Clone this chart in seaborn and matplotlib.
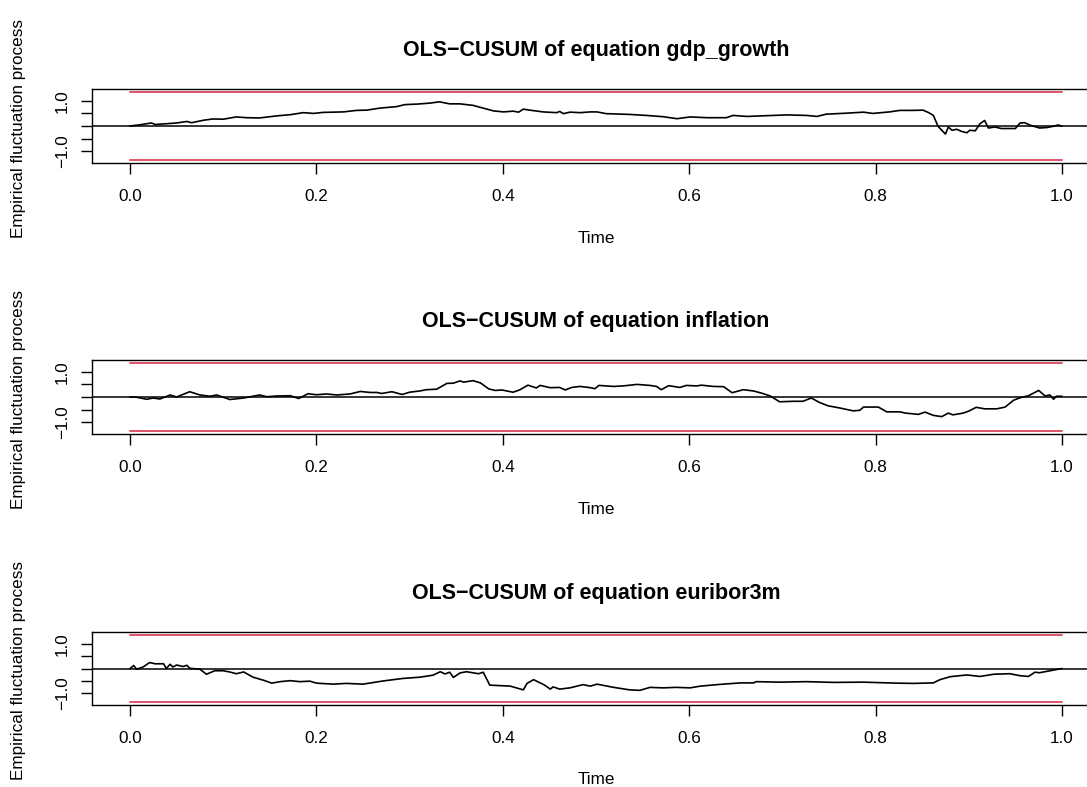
import numpy as np
import pandas as pd
import matplotlib
matplotlib.use("Agg")
import matplotlib.pyplot as plt
import seaborn as sns

# ---------------- data ----------------
titles = ["OLS\u2212CUSUM of equation gdp_growth",
          "OLS\u2212CUSUM of equation inflation",
          "OLS\u2212CUSUM of equation euribor3m"]
boundary = 1.358
y_limit = 1.47
x_ticks = [0.0, 0.2, 0.4, 0.6, 0.8, 1.0]
x_tick_labels = ["0.0", "0.2", "0.4", "0.6", "0.8", "1.0"]
y_ticks = [-1.0, -0.5, 0.0, 0.5, 1.0]
y_tick_labels = ["\u22121.0", "", "", "", "1.0"]

t_gdp = [0.000, 0.011, 0.023, 0.027, 0.039, 0.050, 0.061, 0.066, 0.079, 0.089,
         0.100, 0.114, 0.125, 0.139, 0.157, 0.172, 0.186, 0.197, 0.207, 0.229,
         0.243, 0.254, 0.268, 0.286, 0.295, 0.308, 0.322, 0.332, 0.343, 0.354,
         0.368, 0.379, 0.390, 0.401, 0.411, 0.417, 0.422, 0.429, 0.443, 0.458,
         0.461, 0.465, 0.472, 0.483, 0.494,
         0.501, 0.511, 0.536, 0.554, 0.572, 0.587, 0.601, 0.619, 0.640, 0.647,
         0.662, 0.683, 0.705, 0.726, 0.737, 0.747, 0.769, 0.787, 0.797, 0.815,
         0.826, 0.840, 0.851, 0.857, 0.862, 0.867, 0.871, 0.875, 0.878, 0.882,
         0.887, 0.892, 0.898, 0.901, 0.907, 0.912, 0.917, 0.921, 0.928, 0.935,
         0.944, 0.950, 0.955, 0.960, 0.966, 0.976, 0.984, 0.991, 0.996, 1.000]
v_gdp = [0.00, 0.05, 0.12, 0.06, 0.09, 0.12, 0.18, 0.13, 0.23, 0.28,
         0.27, 0.36, 0.33, 0.32, 0.40, 0.45, 0.53, 0.50, 0.54, 0.56,
         0.62, 0.63, 0.71, 0.77, 0.85, 0.87, 0.91, 0.96, 0.88, 0.88,
         0.82, 0.71, 0.60, 0.56, 0.59, 0.55, 0.67, 0.63, 0.56, 0.53,
         0.58, 0.49, 0.55, 0.53, 0.56,
         0.56, 0.49, 0.46, 0.42, 0.37, 0.29, 0.36, 0.33, 0.33, 0.42,
         0.38, 0.41, 0.44, 0.42, 0.38, 0.47, 0.51, 0.55, 0.50, 0.56,
         0.62, 0.62, 0.63, 0.53, 0.42, -0.01, -0.17, -0.32, -0.04, -0.17,
         -0.13, -0.21, -0.27, -0.17, -0.19, 0.09, 0.22, -0.08, -0.04, -0.10,
         -0.10, -0.10, 0.12, 0.13, 0.03, -0.08, -0.06, -0.01, 0.04, -0.01]

t_inf = [0.000, 0.007, 0.018, 0.025, 0.032, 0.043, 0.050, 0.064, 0.075, 0.086,
         0.093, 0.107, 0.122, 0.139, 0.147, 0.157, 0.172, 0.181, 0.191, 0.200,
         0.211, 0.222, 0.236, 0.247, 0.258, 0.265, 0.270, 0.281, 0.292, 0.300,
         0.311, 0.318, 0.329, 0.340, 0.347, 0.354, 0.358, 0.368, 0.376, 0.385,
         0.392, 0.399, 0.411, 0.418, 0.427, 0.436, 0.440, 0.451, 0.461, 0.467,
         0.474, 0.483, 0.494,
         0.499, 0.503, 0.519, 0.529, 0.544, 0.558, 0.565, 0.570, 0.578, 0.590,
         0.597, 0.608, 0.613, 0.626, 0.637, 0.646, 0.658, 0.669, 0.678, 0.687,
         0.697, 0.712, 0.722, 0.731, 0.740, 0.749, 0.762, 0.776, 0.783, 0.787,
         0.803, 0.812, 0.826, 0.832, 0.846, 0.853, 0.862, 0.871, 0.878, 0.883,
         0.894, 0.900, 0.908, 0.917, 0.930, 0.939, 0.948, 0.955, 0.964, 0.975,
         0.982, 0.987, 0.991, 0.994, 1.000]
v_inf = [0.00, -0.01, -0.09, -0.04, -0.08, 0.08, 0.00, 0.21, 0.08, 0.03,
         0.08, -0.10, -0.04, 0.08, 0.01, 0.04, 0.05, -0.06, 0.13, 0.09,
         0.12, 0.08, 0.12, 0.22, 0.18, 0.18, 0.14, 0.21, 0.10, 0.19,
         0.24, 0.29, 0.31, 0.54, 0.55, 0.64, 0.59, 0.65, 0.56, 0.32,
         0.26, 0.28, 0.19, 0.28, 0.47, 0.36, 0.46, 0.37, 0.38, 0.28,
         0.38, 0.42, 0.37,
         0.33, 0.46, 0.42, 0.44, 0.50, 0.46, 0.42, 0.29, 0.45, 0.38,
         0.46, 0.44, 0.47, 0.42, 0.41, 0.17, 0.29, 0.24, 0.15, 0.04,
         -0.19, -0.17, -0.17, -0.04, -0.22, -0.35, -0.44, -0.55, -0.53, -0.40,
         -0.40, -0.59, -0.59, -0.64, -0.69, -0.60, -0.73, -0.78, -0.64, -0.71,
         -0.64, -0.56, -0.41, -0.47, -0.47, -0.40, -0.13, -0.03, 0.05, 0.26,
         0.04, 0.08, -0.09, 0.03, 0.03]

t_eur = [0.000, 0.004, 0.007, 0.014, 0.021, 0.027, 0.036, 0.039, 0.043, 0.046,
         0.050, 0.057, 0.061, 0.064, 0.075, 0.082, 0.091, 0.100, 0.107, 0.114,
         0.122, 0.132, 0.143, 0.152, 0.161, 0.172, 0.182, 0.193, 0.200, 0.218,
         0.232, 0.250, 0.272, 0.293, 0.311, 0.325, 0.333, 0.338, 0.343, 0.347,
         0.354, 0.361, 0.374, 0.379, 0.386, 0.397, 0.408, 0.422, 0.426, 0.433,
         0.444, 0.451, 0.454, 0.461, 0.472, 0.486, 0.494,
         0.501, 0.519, 0.536, 0.547, 0.558, 0.572, 0.586, 0.601, 0.612, 0.633,
         0.655, 0.669, 0.672, 0.697, 0.726, 0.755, 0.787, 0.823, 0.841, 0.862,
         0.869, 0.880, 0.898, 0.912, 0.927, 0.944, 0.955, 0.964, 0.971, 0.976,
         0.983, 1.000]
v_eur = [0.00, 0.12, -0.03, 0.06, 0.24, 0.19, 0.19, 0.00, 0.17, 0.06,
         0.14, 0.08, 0.13, 0.01, -0.03, -0.23, -0.09, -0.09, -0.14, -0.21,
         -0.14, -0.35, -0.47, -0.59, -0.53, -0.49, -0.53, -0.51, -0.59, -0.63,
         -0.60, -0.63, -0.50, -0.40, -0.35, -0.27, -0.13, -0.22, -0.15, -0.36,
         -0.18, -0.13, -0.21, -0.15, -0.67, -0.69, -0.71, -0.86, -0.60, -0.45,
         -0.65, -0.83, -0.74, -0.83, -0.78, -0.65, -0.71,
         -0.63, -0.76, -0.86, -0.88, -0.76, -0.78, -0.76, -0.78, -0.71, -0.64,
         -0.58, -0.58, -0.53, -0.55, -0.53, -0.56, -0.55, -0.59, -0.60, -0.58,
         -0.45, -0.33, -0.26, -0.32, -0.23, -0.21, -0.29, -0.32, -0.15, -0.17,
         -0.12, 0.00]

series = [(t_gdp, v_gdp), (t_inf, v_inf), (t_eur, v_eur)]

# ---------------- style ----------------
sns.set_style("white")
plt.rcParams["font.family"] = ["Liberation Sans", "DejaVu Sans"]
plt.rcParams["axes.unicode_minus"] = True
plt.rcParams["text.color"] = "black"
plt.rcParams["axes.labelcolor"] = "black"

W, H = 1087, 787
fig = plt.figure(figsize=(W / 100, H / 100), dpi=100)

# axes boxes in pixel rows (top, bottom)
boxes = [(89, 163), (360, 434), (632, 705)]
left_px, right_px = 92, 1100
red = "#DF536B"

for (t, v), title, (top, bot) in zip(series, titles, boxes):
    ax = fig.add_axes([left_px / W, 1 - bot / H, (right_px - left_px) / W, (bot - top) / H])
    df = pd.DataFrame({"Time": t, "value": v})
    bdf = pd.DataFrame({"Time": [0.0, 1.0], "up": [boundary, boundary], "lo": [-boundary, -boundary]})
    sns.lineplot(data=bdf, x="Time", y="up", ax=ax, color=red, lw=1.4)
    sns.lineplot(data=bdf, x="Time", y="lo", ax=ax, color=red, lw=1.4)
    ax.axhline(0, color="black", lw=1.1)
    sns.lineplot(data=df, x="Time", y="value", ax=ax, color="black", lw=1.2, sort=False)

    ax.set_xlim(-0.0408, 1.0408)
    ax.set_ylim(-y_limit, y_limit)
    for s in ax.spines.values():
        s.set_visible(True)
        s.set_color("black")
        s.set_linewidth(1.0)

    ax.set_xticks(x_ticks)
    ax.set_xticklabels(x_tick_labels)
    ax.set_yticks(y_ticks)
    ax.set_yticklabels(y_tick_labels, rotation=90, va="center", ha="right")
    ax.tick_params(axis="both", direction="out", length=8, width=1.0,
                   color="black", labelsize=12.3, labelcolor="black")
    ax.tick_params(axis="x", pad=11, bottom=True)
    ax.tick_params(axis="y", pad=8, left=True)

    ax.set_title(title, fontsize=15.5, fontweight="bold", pad=24, color="black")
    ax.set_xlabel("Time", fontsize=12.3, va="center")
    ax.xaxis.set_label_coords(0.5, -1.02)
    ax.set_ylabel("Empirical fluctuation process", fontsize=12.3, va="center")
    ax.yaxis.set_label_coords((19 - left_px) / (right_px - left_px), 0.47)

fig.savefig("out.png", dpi=100, facecolor="white")
